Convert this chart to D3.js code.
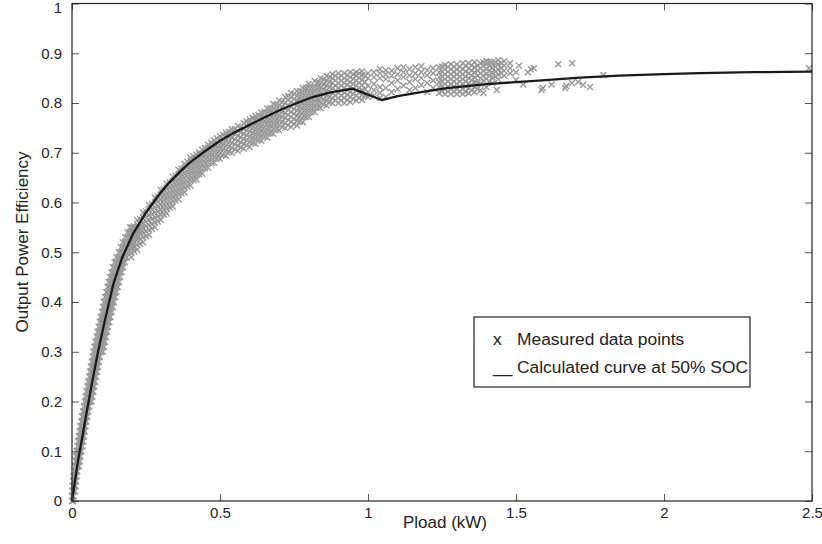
<!DOCTYPE html>
<html><head><meta charset="utf-8">
<script src="https://cdn.jsdelivr.net/npm/d3@7"></script>
<style>
body{margin:0;background:#fff}
svg{display:block}
text{font-family:"Liberation Sans",Arial,Helvetica,sans-serif;fill:#222}
</style>
</head><body>
<svg id="chart" width="822" height="544"></svg>
<script>
// ---------- data ----------
const xTickValues = [0, 0.5, 1, 1.5, 2, 2.5];
const xTickLabels = ["0", "0.5", "1", "1.5", "2", "2.5"];
const yTickValues = [0, 0.1, 0.2, 0.3, 0.4, 0.5, 0.6, 0.7, 0.8, 0.9, 1];
const yTickLabels = ["0", "0.1", "0.2", "0.3", "0.4", "0.5", "0.6", "0.7", "0.8", "0.9", "1"];

const xTitle = "Pload (kW)";
const yTitle = "Output Power Efficiency";
const legendMarks = ["x", "__"];
const legendLabels = ["Measured data points", "Calculated curve at 50% SOC"];

// calculated curve at 50% SOC
const curveP   = [0, 0.01, 0.02, 0.033, 0.05, 0.07, 0.089, 0.11, 0.14, 0.17, 0.207, 0.25, 0.297, 0.33, 0.365, 0.40, 0.449, 0.5, 0.55, 0.59, 0.65, 0.703, 0.76, 0.814, 0.87, 0.948, 1.046, 1.1, 1.18, 1.266, 1.4, 1.5, 1.6, 1.716, 1.85, 2.0, 2.12, 2.3, 2.5];
const curveEff = [0, 0.04, 0.08, 0.122, 0.18, 0.245, 0.303, 0.36, 0.437, 0.49, 0.538, 0.58, 0.618, 0.641, 0.662, 0.681, 0.703, 0.724, 0.741, 0.753, 0.771, 0.786, 0.800, 0.812, 0.821, 0.829, 0.806, 0.814, 0.822, 0.830, 0.838, 0.842, 0.846, 0.851, 0.855, 0.858, 0.860, 0.862, 0.863];

// measured points, steep part: [eff, P, P, ...]
const measRowsByEff = [
 [0.00, 0.000, 0.004],
 [0.01, 0.000, 0.005],
 [0.02, 0.001, 0.006, 0.010],
 [0.03, 0.002, 0.007, 0.012],
 [0.04, 0.004, 0.009, 0.014],
 [0.05, 0.006, 0.011, 0.016],
 [0.06, 0.008, 0.013, 0.018],
 [0.07, 0.010, 0.015, 0.020, 0.024],
 [0.08, 0.012, 0.017, 0.022, 0.027],
 [0.09, 0.014, 0.019, 0.024, 0.029],
 [0.10, 0.016, 0.021, 0.027, 0.032],
 [0.11, 0.019, 0.024, 0.029, 0.035],
 [0.12, 0.021, 0.026, 0.032, 0.038],
 [0.13, 0.023, 0.029, 0.035, 0.040],
 [0.14, 0.026, 0.032, 0.038, 0.043],
 [0.15, 0.028, 0.034, 0.040, 0.046],
 [0.16, 0.031, 0.037, 0.043, 0.049],
 [0.17, 0.034, 0.040, 0.046, 0.052],
 [0.18, 0.037, 0.043, 0.049, 0.055],
 [0.19, 0.040, 0.046, 0.052, 0.058],
 [0.20, 0.043, 0.049, 0.055, 0.061, 0.066],
 [0.21, 0.046, 0.052, 0.058, 0.064, 0.069],
 [0.22, 0.049, 0.055, 0.061, 0.067, 0.072],
 [0.23, 0.052, 0.058, 0.064, 0.070, 0.075],
 [0.24, 0.055, 0.061, 0.067, 0.073, 0.078],
 [0.25, 0.058, 0.064, 0.070, 0.076, 0.082],
 [0.26, 0.061, 0.067, 0.073, 0.079, 0.085],
 [0.27, 0.064, 0.070, 0.076, 0.082, 0.088],
 [0.28, 0.067, 0.073, 0.079, 0.085, 0.091],
 [0.29, 0.070, 0.076, 0.082, 0.088, 0.094],
 [0.30, 0.072, 0.079, 0.086, 0.092, 0.098, 0.104],
 [0.31, 0.076, 0.082, 0.089, 0.096, 0.102, 0.108],
 [0.32, 0.079, 0.086, 0.092, 0.099, 0.105, 0.111],
 [0.33, 0.083, 0.089, 0.096, 0.102, 0.109, 0.115],
 [0.34, 0.086, 0.093, 0.100, 0.106, 0.112, 0.119],
 [0.35, 0.090, 0.097, 0.103, 0.110, 0.116, 0.122],
 [0.36, 0.094, 0.100, 0.107, 0.114, 0.120, 0.126],
 [0.37, 0.097, 0.104, 0.111, 0.117, 0.124, 0.130],
 [0.38, 0.101, 0.108, 0.115, 0.121, 0.128, 0.134],
 [0.39, 0.105, 0.112, 0.118, 0.125, 0.132, 0.138],
 [0.40, 0.108, 0.115, 0.122, 0.129, 0.136, 0.142],
 [0.41, 0.112, 0.119, 0.126, 0.133, 0.140, 0.146],
 [0.42, 0.116, 0.123, 0.130, 0.137, 0.144, 0.150],
 [0.43, 0.120, 0.127, 0.134, 0.141, 0.148, 0.155],
 [0.44, 0.124, 0.131, 0.138, 0.145, 0.152, 0.159],
 [0.45, 0.128, 0.135, 0.142, 0.149, 0.156, 0.163],
 [0.46, 0.133, 0.140, 0.147, 0.154, 0.161, 0.168],
 [0.47, 0.138, 0.145, 0.152, 0.159, 0.166, 0.173],
 [0.48, 0.144, 0.151, 0.158, 0.165, 0.172, 0.179],
 [0.49, 0.150, 0.157, 0.164, 0.171, 0.178, 0.185],
 [0.50, 0.158, 0.166, 0.174, 0.182, 0.190, 0.198],
 [0.51, 0.165, 0.173, 0.181, 0.189, 0.197, 0.205],
 [0.52, 0.172, 0.180, 0.188, 0.196, 0.204, 0.212],
 [0.53, 0.180, 0.188, 0.196, 0.204, 0.212, 0.220],
 [0.54, 0.188, 0.196, 0.204, 0.212, 0.220, 0.228],
 [0.55, 0.196, 0.204, 0.212, 0.220, 0.228, 0.236]
];

// measured points, flat part: [P, eff, eff, ...]
const measColsByP = [
 [0.20, 0.490, 0.500, 0.510, 0.520, 0.530, 0.540, 0.550],
 [0.21, 0.502, 0.512, 0.522, 0.532, 0.542, 0.552],
 [0.22, 0.505, 0.515, 0.525, 0.535, 0.545, 0.555, 0.565],
 [0.23, 0.517, 0.527, 0.537, 0.547, 0.557, 0.567],
 [0.24, 0.520, 0.530, 0.540, 0.550, 0.560, 0.570, 0.580],
 [0.25, 0.532, 0.542, 0.552, 0.562, 0.572, 0.582],
 [0.26, 0.535, 0.545, 0.555, 0.565, 0.575, 0.585, 0.595],
 [0.27, 0.547, 0.557, 0.567, 0.577, 0.587, 0.597],
 [0.28, 0.550, 0.560, 0.570, 0.580, 0.590, 0.600, 0.610],
 [0.29, 0.562, 0.572, 0.582, 0.592, 0.602, 0.612],
 [0.30, 0.565, 0.575, 0.585, 0.595, 0.605, 0.615, 0.625],
 [0.31, 0.576, 0.586, 0.596, 0.606, 0.616, 0.626],
 [0.32, 0.578, 0.588, 0.598, 0.608, 0.618, 0.628, 0.638],
 [0.33, 0.590, 0.600, 0.610, 0.620, 0.630, 0.640],
 [0.34, 0.592, 0.602, 0.612, 0.622, 0.632, 0.642, 0.652],
 [0.35, 0.604, 0.614, 0.624, 0.634, 0.644, 0.654],
 [0.36, 0.606, 0.616, 0.626, 0.636, 0.646, 0.656, 0.666],
 [0.37, 0.618, 0.628, 0.638, 0.648, 0.658, 0.668],
 [0.38, 0.620, 0.630, 0.640, 0.650, 0.660, 0.670, 0.678],
 [0.39, 0.632, 0.642, 0.652, 0.662, 0.672, 0.682],
 [0.40, 0.634, 0.644, 0.654, 0.664, 0.674, 0.684, 0.690],
 [0.41, 0.645, 0.655, 0.665, 0.675, 0.685, 0.693],
 [0.42, 0.646, 0.656, 0.666, 0.676, 0.686, 0.696],
 [0.43, 0.657, 0.667, 0.677, 0.687, 0.697, 0.701],
 [0.44, 0.658, 0.668, 0.678, 0.688, 0.698, 0.706],
 [0.45, 0.669, 0.679, 0.689, 0.699, 0.709],
 [0.46, 0.670, 0.680, 0.690, 0.700, 0.710, 0.716],
 [0.47, 0.680, 0.690, 0.700, 0.710, 0.720],
 [0.48, 0.680, 0.690, 0.700, 0.710, 0.718, 0.725],
 [0.49, 0.689, 0.699, 0.709, 0.719, 0.729],
 [0.50, 0.688, 0.698, 0.708, 0.718, 0.726, 0.733],
 [0.51, 0.696, 0.706, 0.716, 0.726, 0.736],
 [0.52, 0.694, 0.704, 0.714, 0.724, 0.734, 0.740],
 [0.53, 0.702, 0.712, 0.722, 0.732, 0.742],
 [0.54, 0.700, 0.710, 0.720, 0.730, 0.740, 0.747],
 [0.55, 0.707, 0.717, 0.727, 0.737, 0.747],
 [0.56, 0.704, 0.714, 0.724, 0.734, 0.744, 0.754],
 [0.57, 0.711, 0.721, 0.731, 0.741, 0.751],
 [0.58, 0.708, 0.718, 0.728, 0.738, 0.748, 0.760],
 [0.59, 0.715, 0.725, 0.735, 0.745, 0.755, 0.763],
 [0.60, 0.712, 0.722, 0.732, 0.742, 0.752, 0.762, 0.767],
 [0.61, 0.720, 0.730, 0.740, 0.750, 0.760, 0.770],
 [0.62, 0.718, 0.728, 0.738, 0.748, 0.758, 0.768, 0.774],
 [0.63, 0.726, 0.736, 0.746, 0.756, 0.766, 0.776],
 [0.64, 0.724, 0.734, 0.744, 0.754, 0.764, 0.774, 0.781],
 [0.65, 0.732, 0.742, 0.752, 0.762, 0.772, 0.782],
 [0.66, 0.730, 0.740, 0.750, 0.760, 0.770, 0.780, 0.789],
 [0.67, 0.739, 0.749, 0.759, 0.769, 0.779, 0.789],
 [0.68, 0.738, 0.748, 0.758, 0.768, 0.778, 0.788, 0.798],
 [0.69, 0.746, 0.756, 0.766, 0.776, 0.786, 0.796],
 [0.70, 0.745, 0.755, 0.765, 0.775, 0.785, 0.795, 0.805],
 [0.71, 0.752, 0.762, 0.772, 0.782, 0.792, 0.802],
 [0.72, 0.750, 0.760, 0.770, 0.780, 0.790, 0.800, 0.812],
 [0.73, 0.756, 0.766, 0.776, 0.786, 0.796, 0.806, 0.814],
 [0.74, 0.752, 0.762, 0.772, 0.782, 0.792, 0.802, 0.812, 0.820],
 [0.75, 0.758, 0.768, 0.778, 0.788, 0.798, 0.808, 0.818],
 [0.76, 0.755, 0.765, 0.775, 0.785, 0.795, 0.805, 0.815, 0.824],
 [0.77, 0.763, 0.773, 0.783, 0.793, 0.803, 0.813, 0.823],
 [0.78, 0.762, 0.772, 0.782, 0.792, 0.802, 0.812, 0.822, 0.830],
 [0.79, 0.772, 0.782, 0.792, 0.802, 0.812, 0.822, 0.830],
 [0.80, 0.772, 0.782, 0.792, 0.802, 0.812, 0.822, 0.832, 0.838],
 [0.81, 0.782, 0.792, 0.802, 0.812, 0.822, 0.832],
 [0.82, 0.782, 0.792, 0.802, 0.812, 0.822, 0.832, 0.844],
 [0.83, 0.791, 0.801, 0.811, 0.821, 0.831, 0.841],
 [0.84, 0.790, 0.800, 0.810, 0.820, 0.830, 0.840, 0.850],
 [0.85, 0.797, 0.807, 0.817, 0.827, 0.837, 0.847],
 [0.86, 0.795, 0.805, 0.815, 0.825, 0.835, 0.845, 0.855],
 [0.87, 0.802, 0.812, 0.822, 0.832, 0.842, 0.852],
 [0.88, 0.800, 0.810, 0.820, 0.830, 0.840, 0.850, 0.858],
 [0.89, 0.805, 0.815, 0.825, 0.835, 0.845, 0.855],
 [0.90, 0.800, 0.810, 0.820, 0.830, 0.840, 0.850, 0.860],
 [0.91, 0.805, 0.815, 0.825, 0.835, 0.845, 0.855],
 [0.92, 0.800, 0.810, 0.820, 0.830, 0.840, 0.850, 0.860],
 [0.93, 0.806, 0.816, 0.826, 0.836, 0.846, 0.856],
 [0.94, 0.802, 0.812, 0.822, 0.832, 0.842, 0.852, 0.862],
 [0.95, 0.808, 0.818, 0.828, 0.838, 0.848, 0.858],
 [0.96, 0.805, 0.815, 0.825, 0.835, 0.845, 0.855, 0.862],
 [0.97, 0.810, 0.820, 0.830, 0.840, 0.850, 0.860],
 [0.98, 0.806, 0.816, 0.826, 0.836, 0.846, 0.856, 0.864],
 [0.99, 0.815, 0.828, 0.842, 0.855],
 [1.00, 0.812, 0.822, 0.834, 0.850, 0.860],
 [1.02, 0.815, 0.826, 0.838, 0.852, 0.862],
 [1.04, 0.810, 0.820, 0.832, 0.850, 0.860, 0.868],
 [1.06, 0.812, 0.830, 0.848, 0.858, 0.866],
 [1.08, 0.822, 0.840, 0.855, 0.865],
 [1.10, 0.828, 0.845, 0.858, 0.870],
 [1.12, 0.835, 0.852, 0.862, 0.872],
 [1.14, 0.826, 0.842, 0.856, 0.868],
 [1.16, 0.830, 0.848, 0.860, 0.872],
 [1.18, 0.836, 0.850, 0.862, 0.874],
 [1.20, 0.822, 0.840, 0.856, 0.866],
 [1.22, 0.830, 0.845, 0.860, 0.870],
 [1.24, 0.820, 0.832, 0.842, 0.852, 0.862, 0.872],
 [1.25, 0.823, 0.833, 0.843, 0.853, 0.863, 0.873],
 [1.26, 0.818, 0.828, 0.838, 0.848, 0.858, 0.868, 0.876],
 [1.27, 0.823, 0.833, 0.843, 0.853, 0.863, 0.873],
 [1.28, 0.818, 0.828, 0.838, 0.848, 0.858, 0.868, 0.878],
 [1.29, 0.823, 0.833, 0.843, 0.853, 0.863, 0.873],
 [1.30, 0.818, 0.828, 0.838, 0.848, 0.858, 0.868, 0.878],
 [1.31, 0.823, 0.833, 0.843, 0.853, 0.863, 0.873],
 [1.32, 0.818, 0.828, 0.838, 0.848, 0.858, 0.868, 0.880],
 [1.33, 0.823, 0.833, 0.843, 0.853, 0.863, 0.875],
 [1.34, 0.820, 0.830, 0.840, 0.850, 0.860, 0.870, 0.880],
 [1.35, 0.825, 0.835, 0.845, 0.855, 0.865, 0.876],
 [1.36, 0.822, 0.832, 0.842, 0.852, 0.862, 0.872, 0.882],
 [1.37, 0.828, 0.840, 0.855, 0.865, 0.875],
 [1.38, 0.825, 0.838, 0.850, 0.860, 0.870, 0.880],
 [1.39, 0.845, 0.855, 0.865, 0.875, 0.882],
 [1.40, 0.832, 0.848, 0.858, 0.868, 0.878, 0.884],
 [1.41, 0.843, 0.855, 0.865, 0.875, 0.883],
 [1.42, 0.840, 0.852, 0.862, 0.872, 0.882],
 [1.43, 0.853, 0.863, 0.873, 0.882],
 [1.44, 0.848, 0.858, 0.868, 0.878, 0.886],
 [1.45, 0.860, 0.870, 0.880],
 [1.46, 0.855, 0.865, 0.875, 0.884],
 [1.48, 0.860, 0.870, 0.880]
];

// measured points, isolated: [P, eff]
const measSparse = [
 [1.39, 0.820], [1.435, 0.826], [1.50, 0.846], [1.50, 0.862], [1.51, 0.875],
 [1.525, 0.837], [1.54, 0.862], [1.55, 0.868], [1.56, 0.870], [1.586, 0.826],
 [1.59, 0.830], [1.62, 0.837], [1.643, 0.878], [1.666, 0.830], [1.67, 0.834],
 [1.69, 0.880], [1.689, 0.840], [1.71, 0.842], [1.727, 0.836], [1.75, 0.832],
 [1.795, 0.856], [2.49, 0.870]
];

// ---------- chart ----------
const svg = d3.select("#chart");
const W = 822, H = 544;
const m = {left: 72, right: 10, top: 3.5, bottom: 43};
const x = d3.scaleLinear().domain([0, 2.5]).range([m.left, W - m.right]);
const y = d3.scaleLinear().domain([0, 1]).range([H - m.bottom, m.top]);

const pts = [];
measRowsByEff.forEach(r => r.slice(1).forEach(p => pts.push([p, r[0]])));
measColsByP.forEach(c => c.slice(1).forEach(e => pts.push([c[0], e])));
measSparse.forEach(d => pts.push(d));

const s = 3;
svg.append("g").selectAll("path").data(pts).join("path")
  .attr("transform", d => `translate(${x(d[0])},${y(d[1])})`)
  .attr("d", `M${-s},${-s}L${s},${s}M${-s},${s}L${s},${-s}`)
  .attr("stroke", "#999").attr("stroke-width", 1.4).attr("fill", "none");

const line = d3.line().x((d, i) => x(curveP[i])).y(d => y(d)).curve(d3.curveLinear);
svg.append("path").datum(curveEff).attr("d", line)
  .attr("fill", "none").attr("stroke", "#1a1a1a").attr("stroke-width", 2.3)
  .attr("stroke-linejoin", "round");

// axes (ticks inward, all four sides)
const tickStyle = g => { g.select(".domain").remove(); g.selectAll(".tick line").attr("stroke", "#555"); g.selectAll("text").attr("font-size", 15).attr("fill", "#222").attr("font-family", null); };
svg.append("g").attr("transform", `translate(0,${y(0)})`)
  .call(d3.axisBottom(x).tickValues(xTickValues).tickFormat((d, i) => xTickLabels[i]).tickSizeInner(-7).tickSizeOuter(0).tickPadding(6))
  .call(tickStyle);
svg.append("g").attr("transform", `translate(0,${y(1)})`)
  .call(d3.axisTop(x).tickValues(xTickValues).tickFormat("").tickSizeInner(-7).tickSizeOuter(0))
  .call(tickStyle);
const yAx = svg.append("g").attr("transform", `translate(${x(0)},0)`)
  .call(d3.axisLeft(y).tickValues(yTickValues).tickFormat((d, i) => yTickLabels[i]).tickSizeInner(-7).tickSizeOuter(0).tickPadding(10))
  .call(tickStyle);
// keep the top label "1" inside the picture
yAx.selectAll(".tick text").filter(d => d === 1).attr("dy", "0.62em");
svg.append("g").attr("transform", `translate(${x(2.5)},0)`)
  .call(d3.axisRight(y).tickValues(yTickValues).tickFormat("").tickSizeInner(-7).tickSizeOuter(0))
  .call(tickStyle);

svg.append("rect").attr("x", x(0)).attr("y", y(1)).attr("width", x(2.5) - x(0)).attr("height", y(0) - y(1))
  .attr("fill", "none").attr("stroke", "#222").attr("stroke-width", 1.2);

// titles
svg.append("text").attr("x", (x(0) + x(2.5)) / 2 + 3).attr("y", 528).attr("text-anchor", "middle")
  .attr("font-size", 17).text(xTitle);
svg.append("text").attr("transform", "translate(28,242) rotate(-90)").attr("text-anchor", "middle")
  .attr("font-size", 17).text(yTitle);

// legend
const lg = svg.append("g");
lg.append("rect").attr("x", 474).attr("y", 317).attr("width", 276).attr("height", 70)
  .attr("fill", "#fff").attr("stroke", "#222").attr("stroke-width", 1.2);
legendLabels.forEach((t, i) => {
  lg.append("text").attr("x", 493).attr("y", 345 + i * 28).attr("font-size", 17.4).text(legendMarks[i]);
  lg.append("text").attr("x", 517).attr("y", 345 + i * 28).attr("font-size", 17.4).text(t);
});
</script>
</body></html>
